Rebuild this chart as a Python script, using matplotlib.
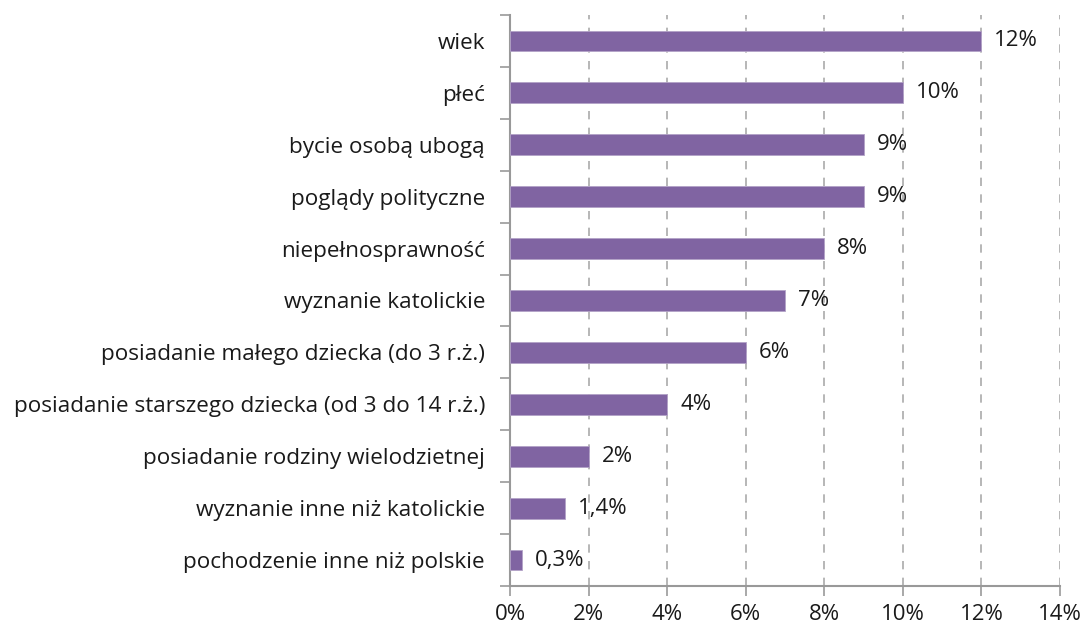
import matplotlib
matplotlib.use("Agg")
import matplotlib.pyplot as plt
from matplotlib.ticker import FuncFormatter, MultipleLocator

categories = [
    "wiek",
    "płeć",
    "bycie osobą ubogą",
    "poglądy polityczne",
    "niepełnosprawność",
    "wyznanie katolickie",
    "posiadanie małego dziecka (do 3 r.ż.)",
    "posiadanie starszego dziecka (od 3 do 14 r.ż.)",
    "posiadanie rodziny wielodzietnej",
    "wyznanie inne niż katolickie",
    "pochodzenie inne niż polskie",
]
values = [12, 10, 9, 9, 8, 7, 6, 4, 2, 1.4, 0.3]
labels = ["12%", "10%", "9%", "9%", "8%", "7%", "6%", "4%", "2%", "1,4%", "0,3%"]

plt.rcParams['font.family'] = ['Open Sans', 'DejaVu Sans']

fig = plt.figure(figsize=(10.85, 6.3), dpi=100)
ax = fig.add_axes([510/1085, 1 - 586/630, (1060-510)/1085, (586-15)/630])

n = len(categories)
ypos = list(range(n))
ax.barh(ypos, values, height=0.4, color="#8064A2", edgecolor="#B3A2C7", linewidth=0.6, zorder=3)
ax.set_ylim(n - 0.5, -0.5)
ax.set_xlim(0, 14)

for y, v, lab in zip(ypos, values, labels):
    ax.text(v + 0.33, y, lab, va="center", ha="left", fontsize=16, color="#1a1a1a")

ax.xaxis.set_major_locator(MultipleLocator(2))
ax.xaxis.set_major_formatter(FuncFormatter(lambda x, p: f"{int(round(x))}%"))
ax.set_yticks([i + 0.5 for i in range(-1, n)], minor=False)
ax.set_yticklabels([])
ax.set_yticks(ypos, minor=True)
ax.set_yticklabels(categories, minor=True)
ax.tick_params(axis="y", which="minor", length=0, pad=18, labelsize=16.2, labelcolor="#1a1a1a")
ax.tick_params(axis="y", which="major", length=7, color="#999999", width=1.2)
ax.tick_params(axis="x", length=7, color="#999999", width=1.2, labelsize=16, labelcolor="#1a1a1a", pad=6)

ax.grid(axis="x", linestyle=(0, (5, 5)), color="#AAAAAA", linewidth=1.2, zorder=0)
for s in ["top", "right"]:
    ax.spines[s].set_visible(False)
for s in ["left", "bottom"]:
    ax.spines[s].set_color("#999999")
    ax.spines[s].set_linewidth(1.5)

fig.savefig("out.png", dpi=100)
